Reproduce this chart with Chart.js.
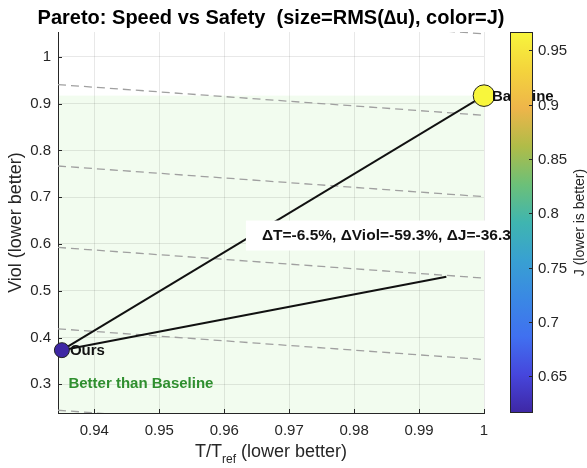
<!DOCTYPE html>
<html>
<head>
<meta charset="utf-8">
<script src="https://cdn.jsdelivr.net/npm/chart.js@4.4.1/dist/chart.umd.min.js"></script>
<style>
  html, body { margin: 0; padding: 0; background: #fff; }
  #wrap { width: 587px; height: 468px; }
</style>
</head>
<body>
<div id="wrap"><canvas id="pareto" width="587" height="468"></canvas></div>
<script>
// two methods: Ours, Baseline
const methods = ['Ours', 'Baseline'];
const tRatio = [0.935, 1.0];     // T / T_ref
const viol = [0.373, 0.917];     // Viol
const rmsDu = [0.48, 1.0];       // RMS(du) -> marker size
const costJ = [0.616, 0.967];    // J -> marker colour

// second solid line, from Ours out to here
const guideEnd = { x: 0.9942, y: 0.530 };

// dashed iso lines  T + Viol = c
const isoLevels = [2.049, 1.875, 1.701, 1.527, 1.353, 1.179];

const xTicks = [0.94, 0.95, 0.96, 0.97, 0.98, 0.99, 1];
const yTicks = [0.3, 0.4, 0.5, 0.6, 0.7, 0.8, 0.9, 1];
const cbTicks = [0.65, 0.7, 0.75, 0.8, 0.85, 0.9, 0.95];

const xLim = [0.9344, 1.0];
const yLim = [0.2387, 1.053];

const deltaText = '\u0394T=-6.5%, \u0394Viol=-59.3%, \u0394J=-36.3%';
const deltaPos = { x: 0.9658, y: 0.618 };
const betterPos = { x: 0.936, y: 0.30 };

const FONT = '"Liberation Sans", Arial, Helvetica, sans-serif';
const AX = '#262626';

// parula-like colour map, evenly spaced stops
const cmapStops = [
  '#3e27a4', '#4646dc', '#4070f0', '#3a88e4', '#38a0d2', '#3fb5b0',
  '#6cc078', '#b0bc48', '#eeb54a', '#f4d43c', '#f8f63c'
];
const hexRgb = h => [1, 3, 5].map(i => parseInt(h.slice(i, i + 2), 16));
function cmap(t) {
  t = Math.max(0, Math.min(1, t));
  const f = t * (cmapStops.length - 1);
  const i = Math.min(Math.floor(f), cmapStops.length - 2);
  const u = f - i;
  const a = hexRgb(cmapStops[i]), b = hexRgb(cmapStops[i + 1]);
  const c = a.map((v, k) => Math.round(v + (b[k] - v) * u));
  return `rgb(${c[0]},${c[1]},${c[2]})`;
}

const jMin = Math.min(...costJ), jMax = Math.max(...costJ);
const markerColors = costJ.map(j => cmap((j - jMin) / (jMax - jMin)));
const markerRadius = rmsDu.map(r => 10.8 * Math.sqrt(r / Math.max(...rmsDu)));

const points = methods.map((m, i) => ({ x: tRatio[i], y: viol[i] }));

const isoSets = isoLevels.map(c => ({
  data: [{ x: xLim[0], y: c - xLim[0] }, { x: xLim[1], y: c - xLim[1] }],
  showLine: true,
  borderColor: '#a0a0a0',
  borderWidth: 1.3,
  borderDash: [8, 5],
  pointRadius: 0,
  order: 3
}));

const fmt = v => String(+v.toFixed(2));

const decor = {
  id: 'decor',
  beforeDraw(chart) {
    const { ctx, chartArea: a, scales: { x, y } } = chart;
    // region better than baseline
    const xr = x.getPixelForValue(tRatio[1]);
    const yt = y.getPixelForValue(viol[1]);
    ctx.save();
    ctx.fillStyle = '#f2fcef';
    ctx.fillRect(a.left, yt, xr - a.left, a.bottom - yt);
    ctx.restore();
  },
  beforeDatasetsDraw(chart) {
    const { ctx, chartArea: a, scales: { x, y } } = chart;
    ctx.save();
    ctx.strokeStyle = AX;
    ctx.lineWidth = 1;
    ctx.beginPath();
    xTicks.forEach(v => {
      const px = Math.round(x.getPixelForValue(v)) + 0.5;
      ctx.moveTo(px, a.bottom); ctx.lineTo(px, a.bottom - 4);
    });
    yTicks.forEach(v => {
      const py = Math.round(y.getPixelForValue(v)) + 0.5;
      ctx.moveTo(a.left, py); ctx.lineTo(a.left + 4, py);
    });
    ctx.stroke();
    ctx.restore();
  },
  afterDatasetsDraw(chart) {
    const { ctx, scales: { x, y } } = chart;
    ctx.save();
    ctx.font = `bold 15px ${FONT}`;
    ctx.textBaseline = 'middle';
    ctx.fillStyle = '#111';
    methods.forEach((m, i) => {
      ctx.fillText(m, x.getPixelForValue(tRatio[i]) + 8, y.getPixelForValue(viol[i]) + 1);
    });

    ctx.fillStyle = '#2f8f2f';
    ctx.fillText('Better than Baseline', x.getPixelForValue(betterPos.x), y.getPixelForValue(betterPos.y));

    // delta box
    ctx.font = `bold 15.5px ${FONT}`;
    const tx = x.getPixelForValue(deltaPos.x), ty = y.getPixelForValue(deltaPos.y);
    const w = ctx.measureText(deltaText).width;
    ctx.fillStyle = '#fff';
    ctx.fillRect(tx - 16, ty - 15, w + 19, 30);
    ctx.fillStyle = '#111';
    ctx.fillText(deltaText, tx, ty);
    ctx.restore();
  },
  afterDraw(chart) {
    const { ctx, chartArea: a } = chart;
    const cx = (a.left + a.right) / 2;
    ctx.save();

    // title
    ctx.fillStyle = '#000';
    ctx.font = `bold 20px ${FONT}`;
    ctx.textAlign = 'center';
    ctx.textBaseline = 'middle';
    ctx.fillText('Pareto: Speed vs Safety  (size=RMS(\u2206u), color=J)', cx, 18);

    // x label with subscript
    ctx.fillStyle = AX;
    ctx.textAlign = 'left';
    const p1 = 'T/T', sub = 'ref', p2 = ' (lower better)';
    ctx.font = `18px ${FONT}`;
    const w1 = ctx.measureText(p1).width, w2 = ctx.measureText(p2).width;
    ctx.font = `12px ${FONT}`;
    const ws = ctx.measureText(sub).width;
    let lx = cx - (w1 + ws + w2) / 2;
    const ly = 452;
    ctx.font = `18px ${FONT}`;
    ctx.fillText(p1, lx, ly);
    ctx.font = `12px ${FONT}`;
    ctx.fillText(sub, lx + w1, ly + 8);
    ctx.font = `18px ${FONT}`;
    ctx.fillText(p2, lx + w1 + ws, ly);

    // y label
    ctx.save();
    ctx.translate(16, (a.top + a.bottom) / 2);
    ctx.rotate(-Math.PI / 2);
    ctx.textAlign = 'center';
    ctx.fillText('Viol (lower better)', 0, 0);
    ctx.restore();

    // colour bar
    const bx = 510, bw = 23, top = a.top, bot = a.bottom;
    const g = ctx.createLinearGradient(0, bot, 0, top);
    cmapStops.forEach((s, i) => g.addColorStop(i / (cmapStops.length - 1), s));
    ctx.fillStyle = g;
    ctx.fillRect(bx, top, bw, bot - top);
    ctx.strokeStyle = AX;
    ctx.lineWidth = 1;
    ctx.strokeRect(bx + 0.5, top + 0.5, bw - 1, bot - top - 1);
    const cbY = v => bot - (v - jMin) / (jMax - jMin) * (bot - top);
    ctx.font = `15px ${FONT}`;
    ctx.fillStyle = AX;
    ctx.textAlign = 'left';
    ctx.beginPath();
    cbTicks.forEach(v => {
      const py = Math.round(cbY(v)) + 0.5;
      ctx.moveTo(bx + bw, py); ctx.lineTo(bx + bw - 4, py);
      ctx.fillText(fmt(v), bx + bw + 5, py);
    });
    ctx.stroke();

    ctx.translate(580, (top + bot) / 2);
    ctx.rotate(-Math.PI / 2);
    ctx.textAlign = 'center';
    ctx.font = `14px ${FONT}`;
    ctx.fillText('J (lower is better)', 0, 0);
    ctx.restore();
  }
};

new Chart(document.getElementById('pareto'), {
  type: 'scatter',
  data: {
    datasets: [
      {
        data: points,
        pointRadius: markerRadius,
        pointHoverRadius: markerRadius,
        pointBackgroundColor: markerColors,
        pointBorderColor: '#222',
        pointBorderWidth: 1,
        clip: false,
        order: 0
      },
      {
        data: [points[0], points[1]],
        showLine: true, borderColor: '#111', borderWidth: 2, pointRadius: 0, order: 1
      },
      {
        data: [points[0], guideEnd],
        showLine: true, borderColor: '#111', borderWidth: 2, pointRadius: 0, order: 1
      },
      ...isoSets
    ]
  },
  options: {
    responsive: false,
    animation: false,
    layout: { padding: { left: 0, top: 32, right: 103, bottom: 0 } },
    plugins: { legend: { display: false }, tooltip: { enabled: false } },
    scales: {
      x: {
        type: 'linear', min: xLim[0], max: xLim[1],
        afterBuildTicks: s => { s.ticks = xTicks.map(v => ({ value: v })); },
        afterFit: s => { s.height = 55; },
        grid: { color: 'rgba(0,0,0,0.09)', drawTicks: false },
        border: { color: AX, width: 1 },
        ticks: { font: { family: FONT, size: 15 }, color: AX, padding: 9, maxRotation: 0, autoSkip: false, callback: v => fmt(v) }
      },
      y: {
        type: 'linear', min: yLim[0], max: yLim[1],
        afterBuildTicks: s => { s.ticks = yTicks.map(v => ({ value: v })); },
        afterFit: s => { s.width = 58; },
        grid: { color: 'rgba(0,0,0,0.09)', drawTicks: false },
        border: { color: AX, width: 1 },
        ticks: { font: { family: FONT, size: 15 }, color: AX, padding: 7, autoSkip: false, callback: v => fmt(v) }
      }
    }
  },
  plugins: [decor]
});
</script>
</body>
</html>
